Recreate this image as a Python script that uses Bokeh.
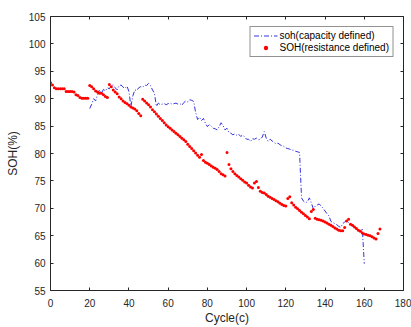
from bokeh.plotting import figure
from bokeh.models import (Range1d, FixedTicker, LinearAxis, Legend, LegendItem,
                          CustomJSTickFormatter, ColumnDataSource)
from bokeh.embed import file_html
from bokeh.resources import INLINE

x_ticks = [0, 20, 40, 60, 80, 100, 120, 140, 160, 180]
y_ticks = [55, 60, 65, 70, 75, 80, 85, 90, 95, 100, 105]

# SOH (resistance defined) - cycle, value
res_cycle = [
    0, 1, 2, 3, 4, 5, 6, 7, 8, 9, 10, 11, 12, 13, 14, 15, 16, 17, 18, 19,
    20, 21, 22, 23, 24, 25, 26, 27, 28, 29,
    30, 31, 32, 33, 34, 35, 36, 37, 38, 39, 40, 41, 42, 43, 44, 45, 46,
    47, 48, 49, 50, 51, 52, 53, 54, 55, 56, 57, 58, 59, 60, 61, 62, 63, 64,
    65, 66, 67, 68, 69, 70, 71, 72, 73, 74, 75, 76, 77, 78, 79, 80, 81, 82,
    83, 84, 85, 86, 87, 88, 89,
    90,
    91, 92, 93, 94, 95, 96, 97, 98, 99, 100, 101, 102, 103, 104, 105, 106,
    107, 108, 109, 110, 111, 112, 113, 114, 115, 116, 117, 118, 119, 120,
    121, 122, 123, 124, 125, 126, 127, 128, 129, 130, 131, 132, 133, 134,
    135, 136, 137, 138, 139, 140, 141, 142, 143, 144, 145, 146, 147, 148, 149,
    150, 151, 152, 153, 154, 155, 156, 157, 158, 159, 160, 161, 162, 163,
    164, 165, 166, 167, 168]
res_soh = [
    92.9, 92.5, 92.0, 91.8, 91.8, 91.8, 91.8, 91.8, 91.3, 91.3, 91.3, 91.3, 91.2,
    90.7, 90.6, 90.2, 90.1, 90.1, 90.1, 90.1,
    92.4, 92.2, 91.8, 91.4, 91.2, 91.0, 91.0, 90.7, 90.4, 90.2,
    92.6, 92.2, 91.6, 91.2, 90.9, 90.3, 90.0, 89.6, 89.3, 89.1, 88.8, 88.5,
    88.3, 88.1, 87.8, 87.3, 86.9,
    89.9, 89.6, 89.2, 88.9, 88.5, 88.0, 87.6, 87.2, 86.8, 86.4, 86.0, 85.6,
    85.2, 84.9, 84.6, 84.3, 84.0, 83.7, 83.4, 83.1, 82.8, 82.5, 82.2, 81.7,
    81.3, 80.9, 80.5, 80.1, 79.7, 79.3, 79.8, 78.7, 78.4, 78.2, 78.0, 77.7,
    77.5, 77.3, 77.1, 76.7, 76.3, 76.1, 75.9,
    80.2,
    78.0, 77.2, 76.7, 76.3, 76.0, 75.7, 75.4, 75.1, 74.8, 74.6, 74.2, 73.9,
    73.7, 74.6, 74.9, 73.8, 73.1, 72.9, 72.8, 72.5, 72.2, 72.0, 71.8, 71.6,
    71.4, 71.2, 70.9, 70.7, 70.5, 70.4,
    71.8, 72.1, 71.0, 70.6, 70.2, 69.9, 69.6, 69.3, 69.0, 68.7, 68.4, 68.1,
    69.4, 69.8,
    68.2, 68.0, 67.9, 67.8, 67.7, 67.5, 67.3, 67.1, 66.9, 66.7, 66.4, 66.2,
    66.0, 65.9, 65.9,
    66.5, 67.7, 68.0, 67.1, 66.9, 66.6, 66.3, 66.0, 65.8, 65.5, 65.3, 65.2,
    65.1, 65.0, 64.8, 64.6, 64.4, 65.4, 66.2]

# soh (capacity defined) - cycle, value
cap_cycle = [
    20, 21, 22, 23, 24, 25, 26, 27, 28, 29, 30, 31, 32, 33, 34, 35, 36, 37,
    38, 39, 40, 41, 42, 43, 44, 45, 46, 47, 48, 49, 50, 51, 52, 53, 54, 55,
    56, 57, 58, 59, 60, 61, 62, 63, 64, 65, 66, 67, 68, 69, 70, 71, 72, 73,
    74, 75, 76, 77, 78, 79, 80, 81, 82, 83, 84, 85, 86, 87, 88, 89, 90, 91,
    92, 93, 94, 95, 96, 97, 98, 99, 100, 101, 102, 103, 104, 105, 106, 107,
    108, 109, 110, 111, 112, 113, 114, 115, 116, 117, 118, 119, 120, 121,
    122, 123, 124, 125, 126, 127, 128, 129, 130, 131, 132, 133, 134, 135,
    136, 137, 138, 139, 140, 141, 142, 143, 144, 145, 146, 147, 148, 149,
    150, 151, 152, 153, 154, 155, 156, 157, 158, 159, 160]
cap_soh = [
    88.2, 89.0, 90.0, 89.6, 90.8, 91.6, 91.0, 91.7, 91.4, 92.0, 91.8, 92.4,
    92.5, 92.0, 91.6, 92.4, 92.5, 92.1, 91.9, 92.3, 91.3, 88.6, 90.5, 91.6,
    91.5, 92.0, 92.2, 92.1, 92.5, 92.4, 92.8, 92.4, 91.6, 91.0, 88.6, 89.2,
    88.9, 89.0, 89.1, 88.9, 89.1, 89.2, 89.0, 89.1, 89.2, 89.0, 89.1, 88.8,
    89.3, 89.6, 89.4, 89.8, 89.7, 89.5, 87.5, 86.2, 86.6, 86.0, 86.4, 85.5,
    84.9, 85.3, 85.0, 84.6, 84.5, 84.3, 84.9, 85.6, 85.1, 84.3, 84.6, 83.8,
    83.7, 83.4, 83.6, 83.3, 83.5, 83.1, 83.4, 83.0, 82.6, 82.6, 82.2, 82.7,
    82.6, 82.8, 82.5, 82.6, 83.0, 84.0, 82.8, 82.2, 82.6, 82.3, 82.0, 81.8,
    81.9, 81.6, 81.4, 81.3, 81.0, 80.9, 80.8, 80.6, 80.6, 80.4, 80.3, 80.2,
    71.9, 71.3, 71.0, 71.2, 71.9, 71.0, 69.9, 70.4, 70.6, 70.8, 70.4, 70.0,
    69.5, 69.0, 68.6, 67.6, 67.4, 67.2, 67.0, 66.7, 66.5, 67.2, 67.5, 67.8,
    67.4, 67.0, 66.7, 66.8, 66.2, 66.0, 65.9, 66.3, 59.9]

AX = "#262626"
FONT = "Liberation Sans"

p = figure(width=411, height=327, output_backend="svg", toolbar_location=None,
           x_range=Range1d(0, 180), y_range=Range1d(55, 105),
           min_border_left=50, min_border_right=8, min_border_top=16,
           min_border_bottom=35, background_fill_color="white",
           border_fill_color="white")
p.grid.visible = False
p.outline_line_color = None

cap_src = ColumnDataSource(dict(x=cap_cycle, y=cap_soh))
res_src = ColumnDataSource(dict(x=res_cycle, y=res_soh))

l1 = p.line("x", "y", source=cap_src, line_color="#3333e0", line_width=1,
            line_dash="5 2 1 2")
r1 = p.scatter("x", "y", source=res_src, size=3.0, fill_color="#ff0000",
               line_color="#ff0000", line_width=0)


def style_axis(ax):
    ax.axis_line_color = AX
    ax.major_tick_line_color = AX
    ax.major_tick_in = 3
    ax.major_tick_out = 0
    ax.minor_tick_line_color = None
    ax.major_label_text_font = FONT
    ax.major_label_text_font_size = "10px"
    ax.major_label_text_color = AX
    ax.axis_label_text_font = FONT
    ax.axis_label_text_font_size = "12px"
    ax.axis_label_text_font_style = "normal"
    ax.axis_label_text_color = AX


xa = p.xaxis[0]
xa.ticker = FixedTicker(ticks=x_ticks)
ya = p.yaxis[0]
ya.ticker = FixedTicker(ticks=y_ticks)
for ax in (xa, ya):
    style_axis(ax)
xa.axis_label = "Cycle(c)"
ya.axis_label = "SOH(%)"
xa.major_label_standoff = 8
ya.major_label_standoff = 5
xa.axis_label_standoff = 1
ya.axis_label_standoff = 6

blank = CustomJSTickFormatter(code="return ''")
top = LinearAxis(ticker=FixedTicker(ticks=x_ticks), formatter=blank)
right = LinearAxis(ticker=FixedTicker(ticks=y_ticks), formatter=blank)
for ax in (top, right):
    style_axis(ax)
    ax.major_label_standoff = 0
    ax.major_label_text_font_size = "1px"
p.add_layout(top, "above")
p.add_layout(right, "right")

legend = Legend(items=[LegendItem(label="soh(capacity defined)", renderers=[l1]),
                       LegendItem(label="SOH(resistance defined)", renderers=[r1])],
                location="top_right", margin=10, padding=3, spacing=1,
                label_text_font=FONT, label_text_font_size="10px",
                label_text_color="#000000", label_height=11, glyph_height=11,
                glyph_width=24, label_standoff=2,
                border_line_color=AX, border_line_width=1,
                background_fill_color="white", background_fill_alpha=1)
p.add_layout(legend)

open("out.html", "w").write(file_html(p, INLINE))
